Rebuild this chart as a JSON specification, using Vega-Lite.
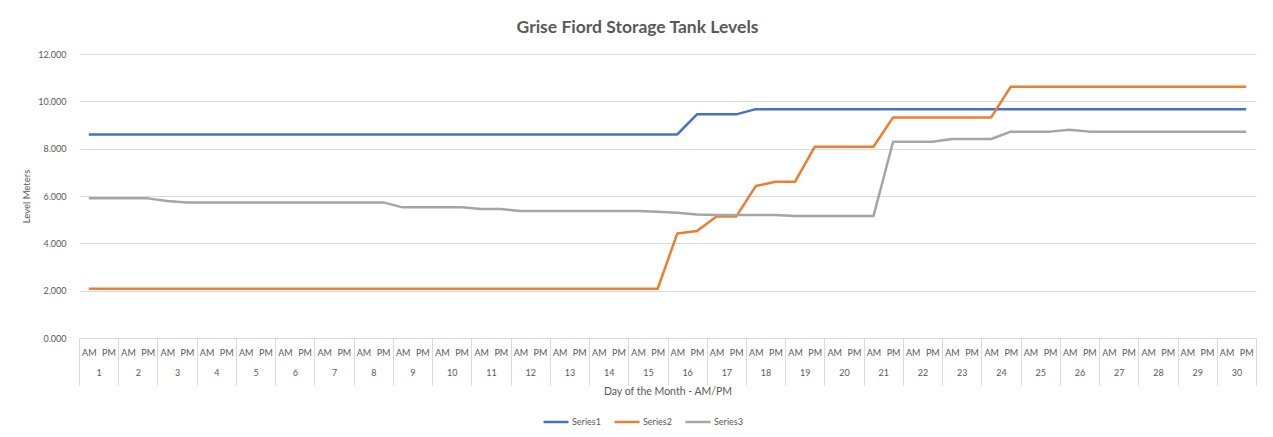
{
  "$schema": "https://vega.github.io/schema/vega-lite/v6.json",
  "autosize": "none",
  "width": 1177,
  "height": 284,
  "padding": {"left": 79, "top": 54, "right": 17, "bottom": 99},
  "background": "white",
  "title": {"text": "Grise Fiord Storage Tank Levels", "font": "Lato", "fontSize": 17.5, "fontWeight": "bold", "color": "#595959", "anchor": "middle", "dx": -30, "baseline": "alphabetic", "offset": 0},
  "config": {"view": {"stroke": null}, "font": "Lato"},
  "data": {"values": [
    {"slot": "1 AM", "day": 1, "Series1": 8.6, "Series2": 2.08, "Series3": 5.9},
    {"slot": "1 PM", "day": 1, "Series1": 8.6, "Series2": 2.08, "Series3": 5.9},
    {"slot": "2 AM", "day": 2, "Series1": 8.6, "Series2": 2.08, "Series3": 5.9},
    {"slot": "2 PM", "day": 2, "Series1": 8.6, "Series2": 2.08, "Series3": 5.9},
    {"slot": "3 AM", "day": 3, "Series1": 8.6, "Series2": 2.08, "Series3": 5.79},
    {"slot": "3 PM", "day": 3, "Series1": 8.6, "Series2": 2.08, "Series3": 5.73},
    {"slot": "4 AM", "day": 4, "Series1": 8.6, "Series2": 2.08, "Series3": 5.73},
    {"slot": "4 PM", "day": 4, "Series1": 8.6, "Series2": 2.08, "Series3": 5.73},
    {"slot": "5 AM", "day": 5, "Series1": 8.6, "Series2": 2.08, "Series3": 5.73},
    {"slot": "5 PM", "day": 5, "Series1": 8.6, "Series2": 2.08, "Series3": 5.73},
    {"slot": "6 AM", "day": 6, "Series1": 8.6, "Series2": 2.08, "Series3": 5.73},
    {"slot": "6 PM", "day": 6, "Series1": 8.6, "Series2": 2.08, "Series3": 5.73},
    {"slot": "7 AM", "day": 7, "Series1": 8.6, "Series2": 2.08, "Series3": 5.73},
    {"slot": "7 PM", "day": 7, "Series1": 8.6, "Series2": 2.08, "Series3": 5.73},
    {"slot": "8 AM", "day": 8, "Series1": 8.6, "Series2": 2.08, "Series3": 5.73},
    {"slot": "8 PM", "day": 8, "Series1": 8.6, "Series2": 2.08, "Series3": 5.73},
    {"slot": "9 AM", "day": 9, "Series1": 8.6, "Series2": 2.08, "Series3": 5.52},
    {"slot": "9 PM", "day": 9, "Series1": 8.6, "Series2": 2.08, "Series3": 5.52},
    {"slot": "10 AM", "day": 10, "Series1": 8.6, "Series2": 2.08, "Series3": 5.52},
    {"slot": "10 PM", "day": 10, "Series1": 8.6, "Series2": 2.08, "Series3": 5.52},
    {"slot": "11 AM", "day": 11, "Series1": 8.6, "Series2": 2.08, "Series3": 5.45},
    {"slot": "11 PM", "day": 11, "Series1": 8.6, "Series2": 2.08, "Series3": 5.45},
    {"slot": "12 AM", "day": 12, "Series1": 8.6, "Series2": 2.08, "Series3": 5.37},
    {"slot": "12 PM", "day": 12, "Series1": 8.6, "Series2": 2.08, "Series3": 5.37},
    {"slot": "13 AM", "day": 13, "Series1": 8.6, "Series2": 2.08, "Series3": 5.37},
    {"slot": "13 PM", "day": 13, "Series1": 8.6, "Series2": 2.08, "Series3": 5.37},
    {"slot": "14 AM", "day": 14, "Series1": 8.6, "Series2": 2.08, "Series3": 5.37},
    {"slot": "14 PM", "day": 14, "Series1": 8.6, "Series2": 2.08, "Series3": 5.37},
    {"slot": "15 AM", "day": 15, "Series1": 8.6, "Series2": 2.08, "Series3": 5.37},
    {"slot": "15 PM", "day": 15, "Series1": 8.6, "Series2": 2.08, "Series3": 5.33},
    {"slot": "16 AM", "day": 16, "Series1": 8.6, "Series2": 4.42, "Series3": 5.29},
    {"slot": "16 PM", "day": 16, "Series1": 9.45, "Series2": 4.52, "Series3": 5.22},
    {"slot": "17 AM", "day": 17, "Series1": 9.45, "Series2": 5.13, "Series3": 5.2},
    {"slot": "17 PM", "day": 17, "Series1": 9.45, "Series2": 5.13, "Series3": 5.2},
    {"slot": "18 AM", "day": 18, "Series1": 9.67, "Series2": 6.42, "Series3": 5.2},
    {"slot": "18 PM", "day": 18, "Series1": 9.67, "Series2": 6.6, "Series3": 5.2},
    {"slot": "19 AM", "day": 19, "Series1": 9.67, "Series2": 6.6, "Series3": 5.15},
    {"slot": "19 PM", "day": 19, "Series1": 9.67, "Series2": 8.08, "Series3": 5.15},
    {"slot": "20 AM", "day": 20, "Series1": 9.67, "Series2": 8.08, "Series3": 5.15},
    {"slot": "20 PM", "day": 20, "Series1": 9.67, "Series2": 8.08, "Series3": 5.15},
    {"slot": "21 AM", "day": 21, "Series1": 9.67, "Series2": 8.08, "Series3": 5.15},
    {"slot": "21 PM", "day": 21, "Series1": 9.67, "Series2": 9.32, "Series3": 8.29},
    {"slot": "22 AM", "day": 22, "Series1": 9.67, "Series2": 9.32, "Series3": 8.29},
    {"slot": "22 PM", "day": 22, "Series1": 9.67, "Series2": 9.32, "Series3": 8.29},
    {"slot": "23 AM", "day": 23, "Series1": 9.67, "Series2": 9.32, "Series3": 8.41},
    {"slot": "23 PM", "day": 23, "Series1": 9.67, "Series2": 9.32, "Series3": 8.41},
    {"slot": "24 AM", "day": 24, "Series1": 9.67, "Series2": 9.32, "Series3": 8.41},
    {"slot": "24 PM", "day": 24, "Series1": 9.67, "Series2": 10.62, "Series3": 8.72},
    {"slot": "25 AM", "day": 25, "Series1": 9.67, "Series2": 10.62, "Series3": 8.72},
    {"slot": "25 PM", "day": 25, "Series1": 9.67, "Series2": 10.62, "Series3": 8.72},
    {"slot": "26 AM", "day": 26, "Series1": 9.67, "Series2": 10.62, "Series3": 8.8},
    {"slot": "26 PM", "day": 26, "Series1": 9.67, "Series2": 10.62, "Series3": 8.72},
    {"slot": "27 AM", "day": 27, "Series1": 9.67, "Series2": 10.62, "Series3": 8.72},
    {"slot": "27 PM", "day": 27, "Series1": 9.67, "Series2": 10.62, "Series3": 8.72},
    {"slot": "28 AM", "day": 28, "Series1": 9.67, "Series2": 10.62, "Series3": 8.72},
    {"slot": "28 PM", "day": 28, "Series1": 9.67, "Series2": 10.62, "Series3": 8.72},
    {"slot": "29 AM", "day": 29, "Series1": 9.67, "Series2": 10.62, "Series3": 8.72},
    {"slot": "29 PM", "day": 29, "Series1": 9.67, "Series2": 10.62, "Series3": 8.72},
    {"slot": "30 AM", "day": 30, "Series1": 9.67, "Series2": 10.62, "Series3": 8.72},
    {"slot": "30 PM", "day": 30, "Series1": 9.67, "Series2": 10.62, "Series3": 8.72}
  ]},
  "layer": [
    {
      "mark": {"type": "tick", "opacity": 0},
      "encoding": {
        "x": {"field": "day", "type": "ordinal", "sort": null,
          "scale": {"type": "band", "paddingInner": 0, "paddingOuter": 0},
          "axis": {"orient": "bottom", "title": "Day of the Month  - AM/PM", "titleFont": "Lato", "titleFontSize": 10.5, "titleFontWeight": "normal", "titleColor": "#595959", "titlePadding": 1,
            "labelAngle": 0, "labelFont": "Lato", "labelFontSize": 9, "labelColor": "#595959", "labelPadding": -17,
            "ticks": true, "tickBand": "extent", "tickSize": 47, "tickColor": "#d9d9d9", "tickWidth": 1,
            "domain": false, "grid": false}},
        "y": {"field": "Series1", "type": "quantitative", "scale": {"domain": [0, 12]}}
      }
    },
    {
      "transform": [{"fold": ["Series1", "Series2", "Series3"], "as": ["series", "level"]}],
      "mark": {"type": "line", "strokeWidth": 2.5, "strokeJoin": "round"},
      "encoding": {
        "x": {"field": "slot", "type": "ordinal", "sort": null,
          "scale": {"type": "point", "padding": 0.5},
          "axis": {"orient": "bottom", "title": null, "labelAngle": 0, "labelFont": "Lato", "labelFontSize": 9, "labelColor": "#595959",
            "labelExpr": "split(datum.label, ' ')[1]", "labelPadding": 10, "ticks": false,
            "domain": true, "domainColor": "#d9d9d9", "domainWidth": 1, "grid": false}},
        "y": {"field": "level", "type": "quantitative",
          "scale": {"domain": [0, 12]},
          "axis": {"title": "Level Meters", "titleFont": "Lato", "titleFontSize": 9.5, "titleFontWeight": "normal", "titleColor": "#595959", "titlePadding": 6,
            "values": [0, 2, 4, 6, 8, 10, 12], "format": ".3f", "labelFont": "Lato", "labelFontSize": 9, "labelColor": "#595959", "labelPadding": 13,
            "ticks": false, "domain": false, "grid": true, "gridColor": "#d9d9d9", "gridWidth": 1}},
        "color": {"field": "series", "type": "nominal",
          "scale": {"domain": ["Series1", "Series2", "Series3"], "range": ["#4472C4", "#ED7D31", "#A5A5A5"]},
          "legend": {"title": null, "orient": "none", "direction": "horizontal", "legendX": 463, "legendY": 354,
            "symbolType": "stroke", "symbolSize": 625, "symbolStrokeWidth": 2.5, "labelFont": "Lato", "labelFontSize": 9, "labelColor": "#595959",
            "labelOffset": 2, "columnPadding": 8, "padding": 0}}
      }
    }
  ],
  "resolve": {"scale": {"x": "independent"}, "axis": {"x": "independent"}}
}
